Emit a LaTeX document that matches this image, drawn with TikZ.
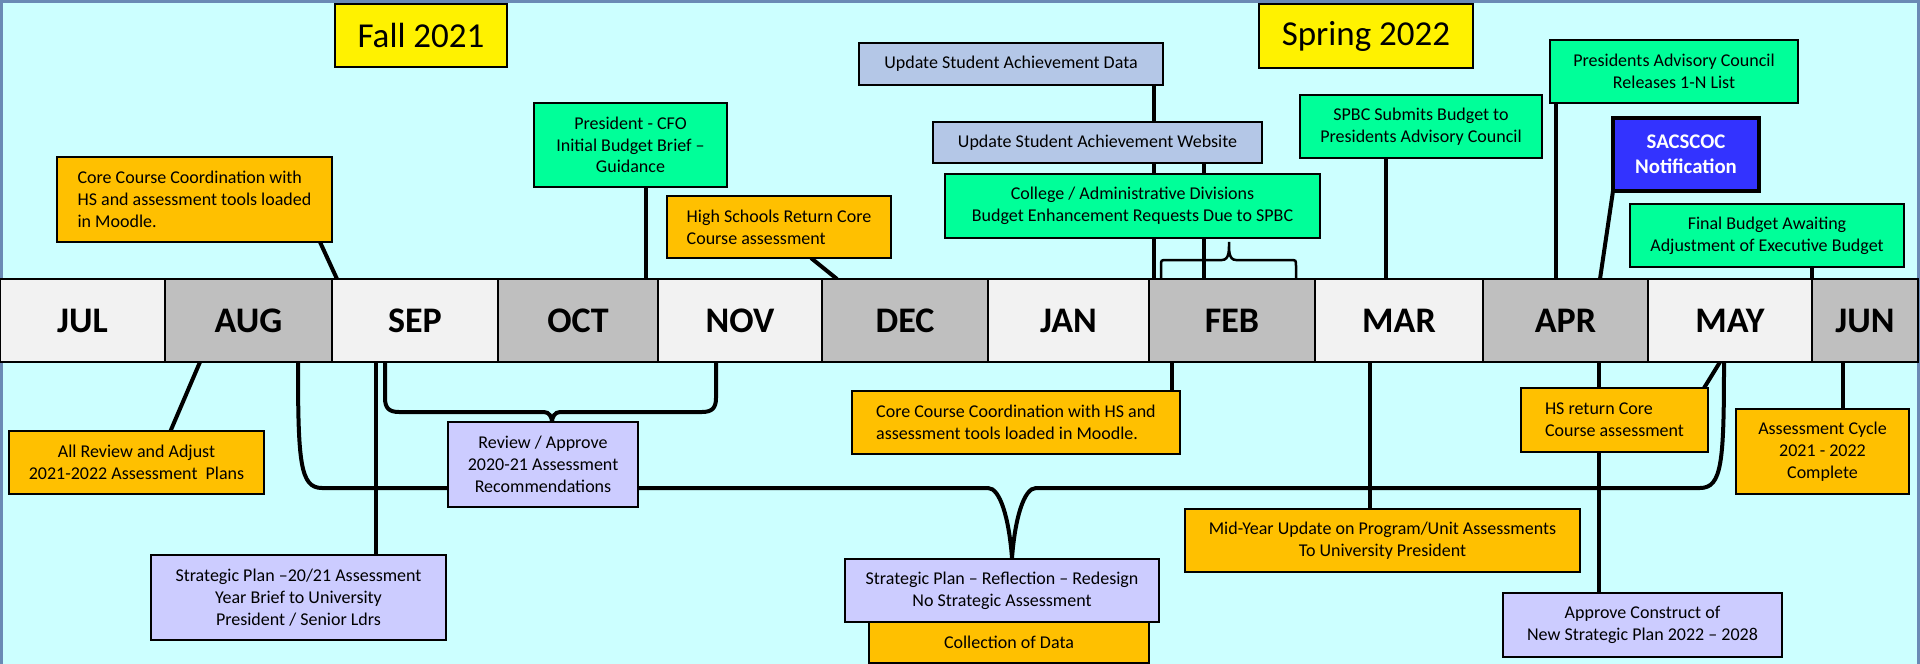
\documentclass[tikz,border=0pt]{standalone}
\usepackage{fontspec}
\setmainfont{Carlito}
\usepackage{xcolor}
\usepackage{tikz}
\usetikzlibrary{positioning, calc}

\definecolor{skycyan}{HTML}{CCFFFF}
\definecolor{frameblue}{HTML}{6A8AB5}
\definecolor{monthlight}{HTML}{F2F2F2}
\definecolor{monthdark}{HTML}{BFBFBF}
\definecolor{amber}{HTML}{FFC000}
\definecolor{mint}{HTML}{00FF99}
\definecolor{steelpale}{HTML}{B4C7E7}
\definecolor{lilac}{HTML}{CCCCFF}
\definecolor{sacsblue}{HTML}{3333FF}

\pgfdeclarelayer{bg}
\pgfdeclarelayer{links}
\pgfsetlayers{bg,links,main}

\begin{document}
\begin{tikzpicture}[
    x=1pt, y=-1pt,
    evbox/.style={rectangle, draw=black, line width=1.5pt, inner sep=0pt, outer sep=0pt, align=center, font=\fontsize{18}{21.7}\selectfont},
    amberbox/.style={evbox, fill=amber},
    mintbox/.style={evbox, fill=mint},
    palebox/.style={evbox, fill=steelpale},
    lilacbox/.style={evbox, fill=lilac},
    termbox/.style={evbox, fill=yellow, font=\fontsize{35}{40}\selectfont},
    notebox/.style={evbox, fill=sacsblue, line width=3.5pt, text=white, font=\fontsize{20.8}{25}\selectfont\bfseries},
    monthbox/.style={rectangle, draw=black, line width=1.5pt, inner sep=0pt, outer sep=0pt, minimum height=83pt, font=\fontsize{36}{40}\selectfont\bfseries},
    monthlt/.style={monthbox, fill=monthlight},
    monthdk/.style={monthbox, fill=monthdark},
    link/.style={line width=4pt, draw=black},
    brace/.style={line width=2.5pt, draw=black}
]
    \useasboundingbox (0,0) rectangle (1920,664);
    \begin{pgfonlayer}{bg}
        \fill[skycyan] (0,0) rectangle (1920,664);
        \draw[frameblue, line width=3pt] (1.5,664) -- (1.5,1.5) -- (1918.5,1.5) -- (1918.5,664);
    \end{pgfonlayer}

    % months
    \node[monthlt, minimum width=165pt] (jul) at (82.5,320.5) {JUL};
    \node[monthdk, minimum width=167pt, right=0pt of jul] (aug) {AUG};
    \node[monthlt, minimum width=166pt, right=0pt of aug] (sep) {SEP};
    \node[monthdk, minimum width=160pt, right=0pt of sep] (oct) {OCT};
    \node[monthlt, minimum width=164pt, right=0pt of oct] (nov) {NOV};
    \node[monthdk, minimum width=166pt, right=0pt of nov] (dec) {DEC};
    \node[monthlt, minimum width=161pt, right=0pt of dec] (jan) {JAN};
    \node[monthdk, minimum width=166pt, right=0pt of jan] (feb) {FEB};
    \node[monthlt, minimum width=168pt, right=0pt of feb] (mar) {MAR};
    \node[monthdk, minimum width=165pt, right=0pt of mar] (apr) {APR};
    \node[monthlt, minimum width=164pt, right=0pt of apr] (may) {MAY};
    \node[monthdk, minimum width=106pt, right=0pt of may] (jun) {JUN};

    \node[termbox, minimum width=172pt, minimum height=63pt] (fall) at (421,35.5) {Fall 2021};
    \node[termbox, minimum width=214pt, minimum height=64pt] (spring) at (1366,36) {Spring 2022};

    % above the bar
    \node[amberbox, align=left, minimum width=275pt, minimum height=85pt] (core1) at (194.5,199.5) {Core Course Coordination with\\HS and assessment tools loaded\\in Moodle.};
    \node[mintbox, minimum width=193pt, minimum height=84pt] (cfo) at (630.5,145) {President - CFO\\Initial Budget Brief –\\Guidance};
    \node[amberbox, align=left, minimum width=224pt, minimum height=62pt] (hs1) at (779,227) {High Schools Return Core\\Course assessment};
    \node[palebox, minimum width=304pt, minimum height=42pt] (data) at (1011,64) {Update Student Achievement Data};
    \node[palebox, minimum width=329pt, minimum height=41pt] (web) at (1097.5,142.5) {Update Student Achievement Website};
    \node[mintbox, minimum width=375pt, minimum height=64pt] (college) at (1132.5,206) {College / Administrative Divisions\\Budget Enhancement Requests Due to SPBC};
    \node[mintbox, minimum width=242pt, minimum height=63pt] (spbc) at (1421,126.5) {SPBC Submits Budget to\\Presidents Advisory Council};
    \node[mintbox, minimum width=248pt, minimum height=63pt] (pac) at (1674,71.5) {Presidents Advisory Council\\Releases 1-N List};
    \node[notebox, minimum width=146pt, minimum height=73pt] (sacs) at (1686,154.5) {SACSCOC\\Notification};
    \node[mintbox, minimum width=274pt, minimum height=63pt] (final) at (1767,235.5) {Final Budget Awaiting\\Adjustment of Executive Budget};

    % below the bar
    \node[amberbox, minimum width=255pt, minimum height=63pt] (review) at (136.5,462.5) {All Review and Adjust\\2021-2022 Assessment\ \ Plans};
    \node[lilacbox, minimum width=295pt, minimum height=85pt] (strat1) at (298.5,597.5) {Strategic Plan –20/21 Assessment\\Year Brief to University\\President / Senior Ldrs};
    \node[lilacbox, minimum width=190pt, minimum height=85pt] (approve1) at (543,464.5) {Review / Approve\\2020-21 Assessment\\Recommendations};
    \node[amberbox, align=left, minimum width=328pt, minimum height=63pt] (core2) at (1016,422.5) {Core Course Coordination with HS and\\assessment tools loaded in Moodle.};
    \node[lilacbox, minimum width=314pt, minimum height=63pt] (strat2) at (1002,590.5) {Strategic Plan – Reflection – Redesign\\No Strategic Assessment};
    \node[amberbox, minimum width=280pt, minimum height=41pt] (collect) at (1009,642.5) {Collection of Data};
    \node[amberbox, minimum width=395pt, minimum height=63pt] (midyear) at (1382.5,540.5) {Mid-Year Update on Program/Unit Assessments\\To University President};
    \node[amberbox, align=left, minimum width=187pt, minimum height=64pt] (hsret) at (1614.5,420) {HS return Core\\Course assessment};
    \node[amberbox, minimum width=173pt, minimum height=85pt] (cycle) at (1822.5,451.5) {Assessment Cycle\\2021 - 2022\\Complete};
    \node[lilacbox, minimum width=279pt, minimum height=64pt] (approve2) at (1642.5,625) {Approve Construct of\\New Strategic Plan 2022 – 2028};

    \begin{pgfonlayer}{links}
        \draw[link] ([xshift=-12pt]core1.south east) -- ([xshift=5pt]sep.north west);
        \draw[link] ([xshift=15pt]cfo.south) coordinate (cfoend) -- (cfoend |- oct.north);
        \draw[link] ([xshift=-80pt]hs1.south east) -- ([xshift=15pt]dec.north west);
        \draw[link] ([xshift=-9pt]data.south east) coordinate (dataend) -- (dataend |- feb.north);
        \draw[link] ([xshift=-58pt]web.south east) coordinate (webend) -- (webend |- feb.north);
        \draw[brace] ([xshift=12pt]feb.north west) -- ++(0,-13) .. controls +(0,-6) and +(-6,0) .. ++(6,-6) -- ++(55,0)
            to[out=0,in=-90] ++(7,-18) to[out=-90,in=180] ++(7,18) -- ++(54,0) .. controls +(6,0) and +(0,-6) .. ++(6,6) -- ++(0,13);
        \draw[link] ([xshift=-35pt]spbc.south) coordinate (spbcend) -- (spbcend |- mar.north);
        \draw[link] ([xshift=6pt]pac.south west) coordinate (pacend) -- (pacend |- apr.north);
        \draw[link] (sacs.south west) -- ([xshift=-48pt]apr.north east);
        \draw[link] ([xshift=45pt]final.south) -- (jun.north west);

        \draw[link] ([xshift=35pt]aug.south west) -- ([xshift=34pt]review.north);
        \draw[link] ([xshift=44pt]sep.south west) coordinate (sepend) -- (sepend |- strat1.north);
        \draw[link] ([xshift=53pt]sep.south west) -- ++(0,36) .. controls +(0,10) and +(-10,0) .. ++(14,14) -- ++(145,0)
            to[out=0,in=90] ++(8,10) to[out=90,in=180] ++(8,-10) -- ++(142,0) .. controls +(10,0) and +(0,10) .. ++(14,-14) -- ++(0,-36);
        \draw[link] ([xshift=-34pt]sep.south west) .. controls +(0,100) and +(-22,0) .. ++(24,126) -- ++(666,0)
            .. controls +(12,0) and +(-3,-40) .. ++(24,70) .. controls +(3,-40) and +(-12,0) .. ++(24,-70)
            -- ++(664,0) .. controls +(22,0) and +(0,100) .. ++(24,-126);
        \draw[link] ([xshift=23pt]feb.south west) coordinate (febend) -- (febend |- core2.north);
        \draw[link] ([xshift=55pt]mar.south west) coordinate (marend) -- (marend |- midyear.north);
        \draw[link] ([xshift=-49pt]apr.south east) coordinate (aprend) -- (aprend |- approve2.north);
        \draw[link] ([xshift=-4pt]hsret.north east) -- ([xshift=72pt]may.south west);
        \draw[link] ([xshift=31pt]jun.south west) coordinate (junend) -- (junend |- cycle.north);
    \end{pgfonlayer}
\end{tikzpicture}
\end{document}
